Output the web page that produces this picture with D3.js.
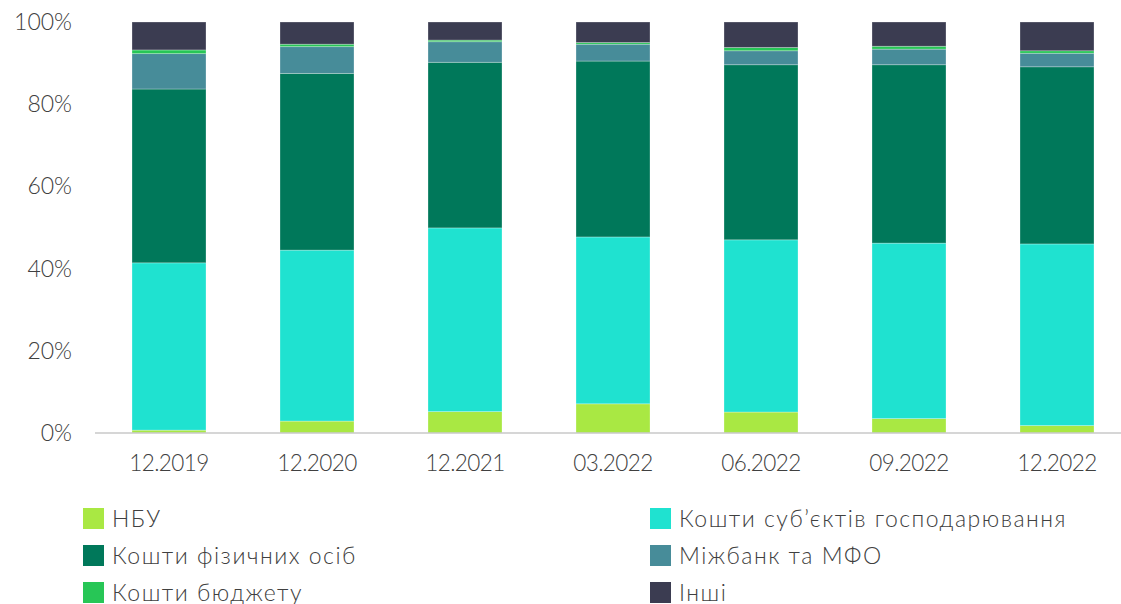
<!DOCTYPE html>
<html>
<head>
<meta charset="utf-8">
<script src="https://cdn.jsdelivr.net/npm/d3@7"></script>
<style>
  body { margin: 0; background: #fff; }
  svg text { font-family: "Lato", "Open Sans", sans-serif; font-weight: 300; fill: #404040; }
</style>
</head>
<body>
<div id="chart"></div>
<script>
const categories = ["12.2019", "12.2020", "12.2021", "03.2022", "06.2022", "09.2022", "12.2022"]
const seriesNames = ["НБУ", "Кошти суб’єктів господарювання", "Кошти фізичних осіб", "Міжбанк та МФО", "Кошти бюджету", "Інші"]
const nbu = [0.7, 2.9, 5.2, 7.1, 5.1, 3.5, 1.8]
const business = [40.7, 41.6, 44.7, 40.6, 41.9, 42.7, 44.2]
const households = [42.3, 43.0, 40.3, 42.8, 42.6, 43.4, 43.1]
const interbank = [8.6, 6.5, 5.0, 4.1, 3.4, 3.8, 3.3]
const budget = [0.9, 0.6, 0.4, 0.4, 0.8, 0.7, 0.6]
const other = [6.8, 5.4, 4.4, 5.0, 6.2, 5.9, 7.0]
const yTicks = [0, 20, 40, 60, 80, 100]

const colors = ["#a9e843", "#1fe2d0", "#00785a", "#478c99", "#27c656", "#3b3c51"]

const width = 1121
const height = 604
const seriesValues = [nbu, business, households, interbank, budget, other]

const rows = categories.map((c, i) => {
  const r = { cat: c }
  seriesNames.forEach((s, j) => { r[s] = seriesValues[j][i] })
  return r
})

const stack = d3.stack().keys(seriesNames)(rows)

const svg = d3.select("#chart").append("svg")
  .attr("width", width)
  .attr("height", height)

const x = d3.scaleBand()
  .domain(categories)
  .range([95, 1131])
  .paddingInner(0.5)
  .paddingOuter(0.25)

const y = d3.scaleLinear()
  .domain([0, 100])
  .range([433, 22])

svg.append("g")
  .selectAll("g")
  .data(stack)
  .enter()
  .append("g")
  .attr("fill", (d, i) => colors[i])
  .selectAll("rect")
  .data((d) => d)
  .enter()
  .append("rect")
  .attr("x", (d) => x(d.data.cat))
  .attr("width", x.bandwidth())
  .attr("y", (d) => y(d[1]))
  .attr("height", (d) => y(d[0]) - y(d[1]))
  .attr("stroke", "rgba(255,255,255,0.35)")
  .attr("stroke-width", 0.8)

// x axis line
svg.append("line")
  .attr("x1", 95).attr("x2", width)
  .attr("y1", y(0)).attr("y2", y(0))
  .attr("stroke", "#c8c8c8")
  .attr("stroke-width", 1.5)

svg.append("g")
  .selectAll("text")
  .data(categories)
  .enter()
  .append("text")
  .attr("x", (d) => x(d) + x.bandwidth() / 2)
  .attr("y", 471)
  .attr("text-anchor", "middle")
  .attr("font-size", "22.5px")
  .attr("letter-spacing", "-0.6px")
  .text((d) => d)

svg.append("g")
  .selectAll("text")
  .data(yTicks)
  .enter()
  .append("text")
  .attr("x", 72)
  .attr("y", (d) => y(d) + 8)
  .attr("text-anchor", "end")
  .attr("font-size", "23px")
  .text((d) => d + "%")

// legend, two columns
const legend = svg.append("g")
  .selectAll("g")
  .data(seriesNames)
  .enter()
  .append("g")
  .attr("transform", (d, i) => `translate(${i % 2 === 0 ? 83 : 650},${508 + Math.floor(i / 2) * 37})`)

legend.append("rect")
  .attr("width", 21)
  .attr("height", 21)
  .attr("fill", (d, i) => colors[i])

legend.append("text")
  .attr("x", 29)
  .attr("y", 19)
  .attr("font-size", "23px")
  .attr("letter-spacing", "1.5px")
  .text((d) => d)
</script>
</body>
</html>
